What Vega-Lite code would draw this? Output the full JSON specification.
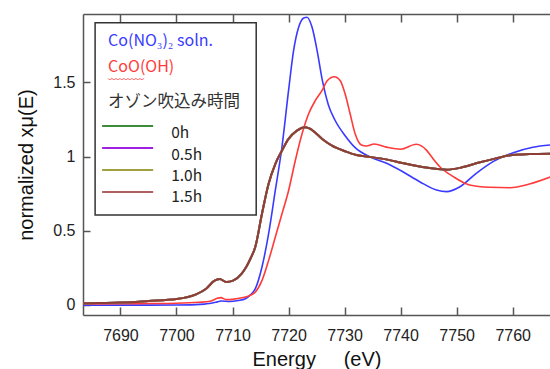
{
  "$schema": "https://vega.github.io/schema/vega-lite/v6.json",
  "width": 467,
  "height": 301,
  "autosize": {"type": "none"},
  "padding": {"left": 83, "top": 14, "right": 0, "bottom": 54},
  "background": "white",
  "config": {
    "view": {"stroke": null},
    "axis": {
      "grid": false,
      "labelFont": "Liberation Sans",
      "labelFontSize": 16,
      "labelColor": "#222222",
      "titleFont": "Liberation Sans",
      "titleFontSize": 20,
      "titleFontWeight": "normal",
      "titleColor": "#111111",
      "domainColor": "#555555",
      "domainWidth": 1.5,
      "tickColor": "#555555",
      "tickWidth": 1.5
    },
    "text": {"font": "Noto Sans CJK JP"}
  },
  "datasets": {
    "ref": [
      {"s": "Co(NO3)2", "E": 7683.4, "v": -0.002},
      {"s": "Co(NO3)2", "E": 7690, "v": -0.001},
      {"s": "Co(NO3)2", "E": 7700, "v": 0.0},
      {"s": "Co(NO3)2", "E": 7705, "v": 0.006},
      {"s": "Co(NO3)2", "E": 7707, "v": 0.018},
      {"s": "Co(NO3)2", "E": 7708, "v": 0.027},
      {"s": "Co(NO3)2", "E": 7709.5, "v": 0.024},
      {"s": "Co(NO3)2", "E": 7711, "v": 0.03},
      {"s": "Co(NO3)2", "E": 7712.3, "v": 0.042},
      {"s": "Co(NO3)2", "E": 7713.2, "v": 0.068},
      {"s": "Co(NO3)2", "E": 7714.05, "v": 0.108},
      {"s": "Co(NO3)2", "E": 7715.25, "v": 0.254},
      {"s": "Co(NO3)2", "E": 7716.43, "v": 0.478},
      {"s": "Co(NO3)2", "E": 7717.63, "v": 0.77},
      {"s": "Co(NO3)2", "E": 7718.82, "v": 1.063},
      {"s": "Co(NO3)2", "E": 7720, "v": 1.444},
      {"s": "Co(NO3)2", "E": 7720.9, "v": 1.714},
      {"s": "Co(NO3)2", "E": 7721.8, "v": 1.871},
      {"s": "Co(NO3)2", "E": 7722.7, "v": 1.934},
      {"s": "Co(NO3)2", "E": 7723.3, "v": 1.939},
      {"s": "Co(NO3)2", "E": 7724.2, "v": 1.871},
      {"s": "Co(NO3)2", "E": 7725.1, "v": 1.714},
      {"s": "Co(NO3)2", "E": 7726.0, "v": 1.52},
      {"s": "Co(NO3)2", "E": 7727.1, "v": 1.35},
      {"s": "Co(NO3)2", "E": 7728.3, "v": 1.245},
      {"s": "Co(NO3)2", "E": 7730.1, "v": 1.141},
      {"s": "Co(NO3)2", "E": 7731.9, "v": 1.06},
      {"s": "Co(NO3)2", "E": 7734.5, "v": 0.999},
      {"s": "Co(NO3)2", "E": 7737.5, "v": 0.955},
      {"s": "Co(NO3)2", "E": 7740.4, "v": 0.898},
      {"s": "Co(NO3)2", "E": 7743.4, "v": 0.831},
      {"s": "Co(NO3)2", "E": 7746.4, "v": 0.775},
      {"s": "Co(NO3)2", "E": 7748.2, "v": 0.764},
      {"s": "Co(NO3)2", "E": 7750.6, "v": 0.797},
      {"s": "Co(NO3)2", "E": 7753.5, "v": 0.887},
      {"s": "Co(NO3)2", "E": 7756.5, "v": 0.966},
      {"s": "Co(NO3)2", "E": 7760.1, "v": 1.026},
      {"s": "Co(NO3)2", "E": 7763.6, "v": 1.063},
      {"s": "Co(NO3)2", "E": 7766.7, "v": 1.078},
      {"s": "CoO(OH)", "E": 7683.4, "v": 0.007},
      {"s": "CoO(OH)", "E": 7690, "v": 0.009},
      {"s": "CoO(OH)", "E": 7695, "v": 0.01},
      {"s": "CoO(OH)", "E": 7700, "v": 0.012},
      {"s": "CoO(OH)", "E": 7704, "v": 0.018},
      {"s": "CoO(OH)", "E": 7706, "v": 0.025},
      {"s": "CoO(OH)", "E": 7707.3, "v": 0.045},
      {"s": "CoO(OH)", "E": 7707.9, "v": 0.05},
      {"s": "CoO(OH)", "E": 7708.9, "v": 0.036},
      {"s": "CoO(OH)", "E": 7710, "v": 0.038},
      {"s": "CoO(OH)", "E": 7711.9, "v": 0.05},
      {"s": "CoO(OH)", "E": 7713, "v": 0.062},
      {"s": "CoO(OH)", "E": 7714.05, "v": 0.086},
      {"s": "CoO(OH)", "E": 7715.25, "v": 0.164},
      {"s": "CoO(OH)", "E": 7716.43, "v": 0.299},
      {"s": "CoO(OH)", "E": 7717.63, "v": 0.456},
      {"s": "CoO(OH)", "E": 7718.82, "v": 0.613},
      {"s": "CoO(OH)", "E": 7720, "v": 0.77},
      {"s": "CoO(OH)", "E": 7721.2, "v": 0.972},
      {"s": "CoO(OH)", "E": 7722.4, "v": 1.152},
      {"s": "CoO(OH)", "E": 7723.57, "v": 1.287},
      {"s": "CoO(OH)", "E": 7724.77, "v": 1.377},
      {"s": "CoO(OH)", "E": 7725.96, "v": 1.444},
      {"s": "CoO(OH)", "E": 7726.9, "v": 1.511},
      {"s": "CoO(OH)", "E": 7728.16, "v": 1.538},
      {"s": "CoO(OH)", "E": 7729.23, "v": 1.511},
      {"s": "CoO(OH)", "E": 7730.1, "v": 1.422},
      {"s": "CoO(OH)", "E": 7731.0, "v": 1.287},
      {"s": "CoO(OH)", "E": 7731.9, "v": 1.152},
      {"s": "CoO(OH)", "E": 7733.0, "v": 1.078},
      {"s": "CoO(OH)", "E": 7733.9, "v": 1.071},
      {"s": "CoO(OH)", "E": 7735.3, "v": 1.085},
      {"s": "CoO(OH)", "E": 7737.5, "v": 1.064},
      {"s": "CoO(OH)", "E": 7740, "v": 1.05},
      {"s": "CoO(OH)", "E": 7742.8, "v": 1.083},
      {"s": "CoO(OH)", "E": 7744.6, "v": 1.044},
      {"s": "CoO(OH)", "E": 7745.5, "v": 1.0},
      {"s": "CoO(OH)", "E": 7747, "v": 0.932},
      {"s": "CoO(OH)", "E": 7749.4, "v": 0.865},
      {"s": "CoO(OH)", "E": 7752.3, "v": 0.809},
      {"s": "CoO(OH)", "E": 7755.9, "v": 0.793},
      {"s": "CoO(OH)", "E": 7759.5, "v": 0.79},
      {"s": "CoO(OH)", "E": 7763, "v": 0.815},
      {"s": "CoO(OH)", "E": 7766.7, "v": 0.862}
    ],
    "ozone": [
      {"E": 7683.4, "h0": 0.011, "h05": 0.011, "h10": 0.011, "h15": 0.011},
      {"E": 7686, "h0": 0.013, "h05": 0.013, "h10": 0.013, "h15": 0.013},
      {"E": 7690, "h0": 0.016, "h05": 0.016, "h10": 0.016, "h15": 0.016},
      {"E": 7695, "h0": 0.027, "h05": 0.027, "h10": 0.027, "h15": 0.027},
      {"E": 7700, "h0": 0.04, "h05": 0.04, "h10": 0.04, "h15": 0.04},
      {"E": 7703.5, "h0": 0.072, "h05": 0.072, "h10": 0.072, "h15": 0.072},
      {"E": 7705.3, "h0": 0.11, "h05": 0.11, "h10": 0.11, "h15": 0.11},
      {"E": 7706.8, "h0": 0.164, "h05": 0.164, "h10": 0.164, "h15": 0.164},
      {"E": 7707.7, "h0": 0.175, "h05": 0.175, "h10": 0.175, "h15": 0.175},
      {"E": 7708.9, "h0": 0.155, "h05": 0.155, "h10": 0.155, "h15": 0.155},
      {"E": 7710.1, "h0": 0.164, "h05": 0.164, "h10": 0.164, "h15": 0.164},
      {"E": 7711.6, "h0": 0.21, "h05": 0.21, "h10": 0.21, "h15": 0.21},
      {"E": 7712.5, "h0": 0.26, "h05": 0.26, "h10": 0.26, "h15": 0.26},
      {"E": 7713.3, "h0": 0.32, "h05": 0.32, "h10": 0.32, "h15": 0.32},
      {"E": 7714.05, "h0": 0.389, "h05": 0.389, "h10": 0.389, "h15": 0.389},
      {"E": 7715.25, "h0": 0.613, "h05": 0.613, "h10": 0.613, "h15": 0.613},
      {"E": 7716.43, "h0": 0.815, "h05": 0.815, "h10": 0.815, "h15": 0.815},
      {"E": 7717.63, "h0": 0.95, "h05": 0.95, "h10": 0.95, "h15": 0.95},
      {"E": 7718.82, "h0": 1.04, "h05": 1.04, "h10": 1.04, "h15": 1.04},
      {"E": 7720, "h0": 1.119, "h05": 1.119, "h10": 1.119, "h15": 1.119},
      {"E": 7721.5, "h0": 1.175, "h05": 1.175, "h10": 1.175, "h15": 1.175},
      {"E": 7723.0, "h0": 1.197, "h05": 1.197, "h10": 1.197, "h15": 1.197},
      {"E": 7724.2, "h0": 1.179, "h05": 1.179, "h10": 1.179, "h15": 1.179},
      {"E": 7726.0, "h0": 1.119, "h05": 1.119, "h10": 1.119, "h15": 1.119},
      {"E": 7727.75, "h0": 1.074, "h05": 1.074, "h10": 1.074, "h15": 1.074},
      {"E": 7730.1, "h0": 1.036, "h05": 1.036, "h10": 1.036, "h15": 1.036},
      {"E": 7731.9, "h0": 1.013, "h05": 1.013, "h10": 1.013, "h15": 1.013},
      {"E": 7733.3, "h0": 1.004, "h05": 1.004, "h10": 1.004, "h15": 1.004},
      {"E": 7736.3, "h0": 0.988, "h05": 0.988, "h10": 0.988, "h15": 0.988},
      {"E": 7739.3, "h0": 0.966, "h05": 0.966, "h10": 0.966, "h15": 0.966},
      {"E": 7742, "h0": 0.943, "h05": 0.943, "h10": 0.943, "h15": 0.943},
      {"E": 7745.5, "h0": 0.921, "h05": 0.921, "h10": 0.921, "h15": 0.921},
      {"E": 7748.2, "h0": 0.912, "h05": 0.912, "h10": 0.912, "h15": 0.912},
      {"E": 7751, "h0": 0.928, "h05": 0.928, "h10": 0.928, "h15": 0.928},
      {"E": 7754, "h0": 0.96, "h05": 0.96, "h10": 0.96, "h15": 0.96},
      {"E": 7757, "h0": 0.988, "h05": 0.988, "h10": 0.988, "h15": 0.988},
      {"E": 7760, "h0": 1.011, "h05": 1.011, "h10": 1.011, "h15": 1.011},
      {"E": 7763, "h0": 1.017, "h05": 1.017, "h10": 1.017, "h15": 1.017},
      {"E": 7766.7, "h0": 1.02, "h05": 1.02, "h10": 1.02, "h15": 1.02}
    ],
    "box": [{"x1": 7685.48, "x2": 7714.23, "y1": 0.606, "y2": 1.902}],
    "titles": [
      {"t": "Co(NO₃)₂ soln.", "E": 7687.8, "v": 1.779, "c": "#3a3aff", "size": 16},
      {"t": "CoO(OH)", "E": 7687.8, "v": 1.604, "c": "#ff3a3a", "size": 16},
      {"t": "オゾン吹込み時間", "E": 7687.8, "v": 1.371, "c": "#333333", "size": 16.5}
    ],
    "squiggle": [{"t": "﹏﹏﹏", "E": 7687.8, "v": 1.552}],
    "keys": [
      {"k": "0h", "x1": 7686.73, "x2": 7695.84, "lx": 7699.05, "v": 1.206, "lv": 1.159, "c": "#3c8c3c"},
      {"k": "0.5h", "x1": 7686.73, "x2": 7695.84, "lx": 7699.05, "v": 1.058, "lv": 1.011, "c": "#a020e0"},
      {"k": "1.0h", "x1": 7686.73, "x2": 7695.84, "lx": 7699.05, "v": 0.91, "lv": 0.869, "c": "#a0a040"},
      {"k": "1.5h", "x1": 7686.73, "x2": 7695.84, "lx": 7699.05, "v": 0.761, "lv": 0.728, "c": "#b06060"}
    ]
  },
  "resolve": {"axis": {"x": "independent"}, "scale": {"color": "independent"}},
  "layer": [
    {
      "data": {"name": "ref"},
      "mark": {"type": "line", "strokeWidth": 1.6, "clip": true, "interpolate": "monotone"},
      "encoding": {
        "x": {"field": "E", "type": "quantitative",
          "scale": {"domain": [7683.32, 7766.66], "nice": false, "zero": false},
          "axis": {"orient": "bottom", "values": [7690, 7700, 7710, 7720, 7730, 7740, 7750, 7760], "format": "d", "tickSize": -8, "labelPadding": 20, "title": "Energy\u00a0\u00a0\u00a0\u00a0\u00a0(eV)", "titlePadding": 6}},
        "y": {"field": "v", "type": "quantitative",
          "scale": {"domain": [-0.0674, 1.961], "nice": false, "zero": false},
          "axis": {"values": [0, 0.5, 1, 1.5], "format": "~g", "tickSize": -7, "labelPadding": 15, "title": "normalized xμ(E)", "titlePadding": 16}},
        "color": {"field": "s", "type": "nominal", "legend": null,
          "scale": {"domain": ["Co(NO3)2", "CoO(OH)"], "range": ["#3a3aff", "#ff3a3a"]}},
        "detail": {"field": "s"}
      }
    },
    {
      "data": {"name": "ozone"},
      "mark": {"type": "line", "strokeWidth": 2, "color": "#3c8c3c", "clip": true, "interpolate": "monotone"},
      "encoding": {
        "x": {"field": "E", "type": "quantitative", "axis": null},
        "y": {"field": "h0", "type": "quantitative"}
      }
    },
    {
      "data": {"name": "ozone"},
      "mark": {"type": "line", "strokeWidth": 2, "color": "#a020e0", "clip": true, "interpolate": "monotone"},
      "encoding": {
        "x": {"field": "E", "type": "quantitative", "axis": null},
        "y": {"field": "h05", "type": "quantitative"}
      }
    },
    {
      "data": {"name": "ozone"},
      "mark": {"type": "line", "strokeWidth": 2, "color": "#a0a040", "clip": true, "interpolate": "monotone"},
      "encoding": {
        "x": {"field": "E", "type": "quantitative", "axis": null},
        "y": {"field": "h10", "type": "quantitative"}
      }
    },
    {
      "data": {"name": "ozone"},
      "mark": {"type": "line", "strokeWidth": 2, "color": "#8e3e34", "clip": true, "interpolate": "monotone"},
      "encoding": {
        "x": {"field": "E", "type": "quantitative", "axis": null},
        "y": {"field": "h15", "type": "quantitative"}
      }
    },
    {
      "data": {"name": "box"},
      "mark": {"type": "rect", "fill": "white", "stroke": "#333333", "strokeWidth": 1.5},
      "encoding": {
        "x": {"field": "x1", "type": "quantitative",
          "axis": {"orient": "top", "values": [7690, 7700, 7710, 7720, 7730, 7740, 7750, 7760], "labels": false, "tickSize": -8, "title": null}},
        "x2": {"field": "x2"},
        "y": {"field": "y1", "type": "quantitative"},
        "y2": {"field": "y2"}
      }
    },
    {
      "data": {"name": "titles"},
      "mark": {"type": "text", "align": "left", "baseline": "middle"},
      "encoding": {
        "x": {"field": "E", "type": "quantitative", "axis": null},
        "y": {"field": "v", "type": "quantitative"},
        "text": {"field": "t"},
        "color": {"field": "c", "type": "nominal", "scale": null},
        "size": {"field": "size", "type": "quantitative", "scale": null}
      }
    },
    {
      "data": {"name": "squiggle"},
      "mark": {"type": "text", "align": "left", "baseline": "middle", "fontSize": 12, "color": "#ff5050"},
      "encoding": {
        "x": {"field": "E", "type": "quantitative", "axis": null},
        "y": {"field": "v", "type": "quantitative"},
        "text": {"field": "t"}
      }
    },
    {
      "data": {"name": "keys"},
      "mark": {"type": "rule", "strokeWidth": 2},
      "encoding": {
        "x": {"field": "x1", "type": "quantitative", "axis": null},
        "x2": {"field": "x2"},
        "y": {"field": "v", "type": "quantitative"},
        "color": {"field": "c", "type": "nominal", "scale": null}
      }
    },
    {
      "data": {"name": "keys"},
      "mark": {"type": "text", "align": "left", "baseline": "middle", "fontSize": 15.5, "color": "#222222"},
      "encoding": {
        "x": {"field": "lx", "type": "quantitative", "axis": null},
        "y": {"field": "lv", "type": "quantitative"},
        "text": {"field": "k"}
      }
    }
  ]
}
